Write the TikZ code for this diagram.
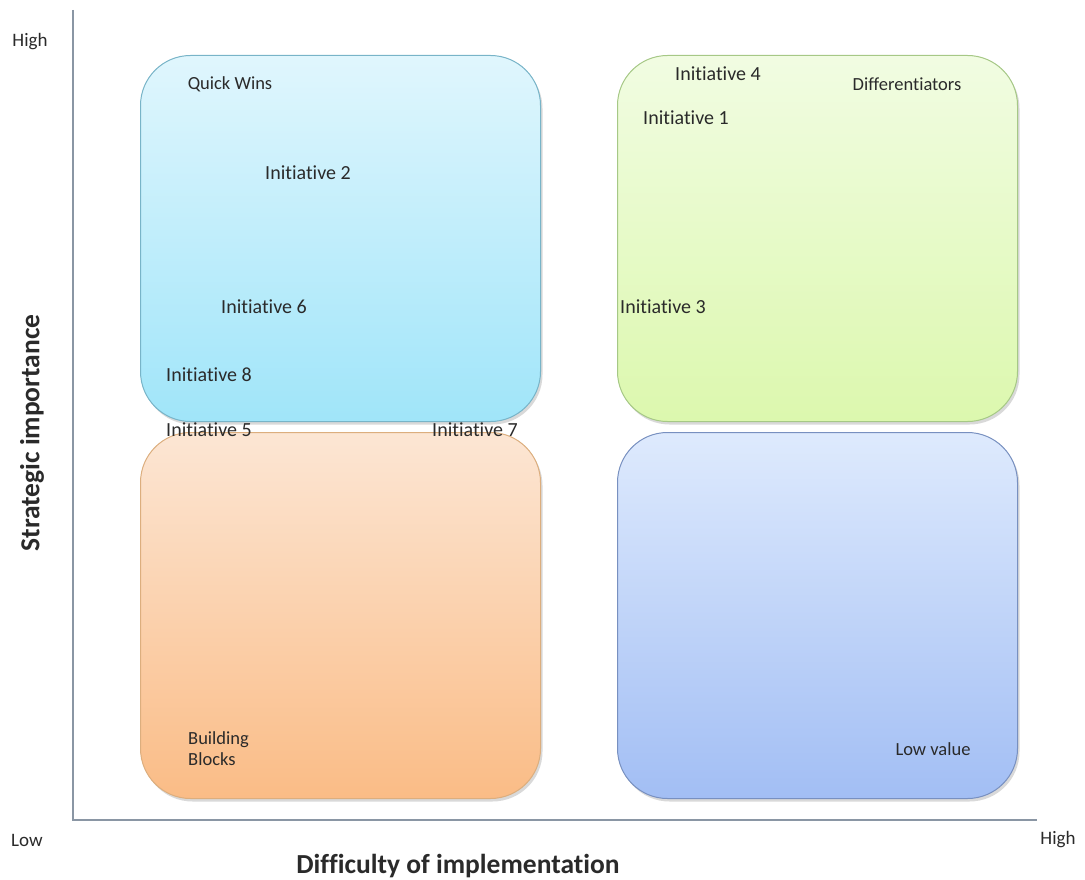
\documentclass[tikz,border=0pt]{standalone}
\usepackage{fontspec}
\setmainfont{Carlito}[Ligatures=NoCommon]
\usetikzlibrary{shadows}
\definecolor{axisgray}{HTML}{8A96A4}
\definecolor{txt}{HTML}{2A2A2A}
\definecolor{qwline}{HTML}{78B4C8}
\definecolor{qwtop}{HTML}{E0F6FD}
\definecolor{qwbot}{HTML}{A0E5F9}
\definecolor{dfline}{HTML}{A6C886}
\definecolor{dftop}{HTML}{F1FCE2}
\definecolor{dfbot}{HTML}{DCF8AE}
\definecolor{bbline}{HTML}{DCAE7E}
\definecolor{bbtop}{HTML}{FCE6D4}
\definecolor{bbbot}{HTML}{FABC86}
\definecolor{lvline}{HTML}{7890C0}
\definecolor{lvtop}{HTML}{DEEAFD}
\definecolor{lvbot}{HTML}{A2BEF4}
\begin{document}
\begin{tikzpicture}[x=1pt,y=-1pt,
  quad/.style={draw, line width=1pt, rounded corners=50pt, minimum width=400pt,
    minimum height=366pt, anchor=north west, inner sep=0pt,
    drop shadow={shadow xshift=2pt, shadow yshift=-3pt, opacity=0.25, fill=black!60}},
  lbl/.style={text=txt, font=\fontsize{20}{22}\selectfont, inner sep=0pt},
  small/.style={text=txt, font=\fontsize{18.5}{21}\selectfont, inner sep=0pt},
  axislbl/.style={text=txt, font=\bfseries\fontsize{27.5}{30}\selectfont, inner sep=0pt},
  tick/.style={text=txt, font=\fontsize{19}{21}\selectfont, inner sep=0pt}]
\useasboundingbox (0,0) rectangle (1085,880);

% axes
\coordinate (ytop) at (73,10);
\coordinate (orig) at (73,820);
\coordinate (xend) at (1037,820);
\draw[axisgray, line width=1.4pt] (ytop) -- (orig) -- (xend);

% quadrants
\node[quad, draw=qwline, top color=qwtop, bottom color=qwbot] (qw) at (140,55) {};
\node[quad, draw=dfline, top color=dftop, bottom color=dfbot] (df) at (617,55) {};
\node[quad, draw=bbline, top color=bbtop, bottom color=bbbot] (bb) at (140,432) {};
\node[quad, draw=lvline, top color=lvtop, bottom color=lvbot] (lv) at (617,432) {};

% quadrant titles
\node[small] (tqw) at (230,84) {Quick Wins};
\node[small] (tdf) at (907,84) {Differentiators};
\node[small, anchor=west, align=left, font=\fontsize{18.5}{21}\selectfont] (tbb) at (188,749) {Building\\Blocks};
\node[small] (tlv) at (933,749) {Low value};

% initiatives
\node[lbl] (i1) at (686,118) {Initiative 1};
\node[lbl] (i2) at (308,173) {Initiative 2};
\node[lbl] (i3) at (663,307) {Initiative 3};
\node[lbl] (i4) at (718,74) {Initiative 4};
\node[lbl] (i5) at (209,430) {Initiative 5};
\node[lbl] (i6) at (264,307) {Initiative 6};
\node[lbl] (i7) at (475,430) {Initiative 7};
\node[lbl] (i8) at (209,375) {Initiative 8};

% axis labels
\node[tick] (yhigh) at (30,42) {High};
\node[tick] (ylow) at (27,840) {Low};
\node[tick] (xhigh) at (1058,840) {High};
\node[axislbl] (xlab) at (458,866) {Difficulty of implementation};
\node[axislbl, rotate=90] (ylab) at (32,433) {Strategic importance};
\end{tikzpicture}
\end{document}
